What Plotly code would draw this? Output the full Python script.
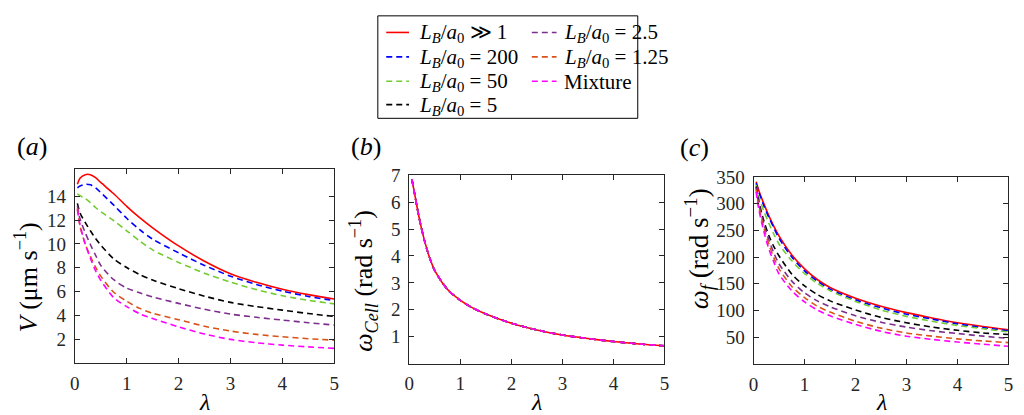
import plotly.graph_objects as go

# ---------------- data ----------------
lam = [0.05, 0.1, 0.2, 0.3, 0.4, 0.5, 0.75, 1, 1.25, 1.5, 2, 2.5, 3, 3.5, 4, 4.5, 5]

series_names = ["L_B/a_0 >> 1", "L_B/a_0 = 200", "L_B/a_0 = 50", "L_B/a_0 = 5",
                "L_B/a_0 = 2.5", "L_B/a_0 = 1.25", "Mixture"]
legend_labels = ["<i>L</i><sub><i>B</i></sub>/<i>a</i><sub>0</sub> ≫ 1",
                 "<i>L</i><sub><i>B</i></sub>/<i>a</i><sub>0</sub> = 200",
                 "<i>L</i><sub><i>B</i></sub>/<i>a</i><sub>0</sub> = 50",
                 "<i>L</i><sub><i>B</i></sub>/<i>a</i><sub>0</sub> = 5",
                 "<i>L</i><sub><i>B</i></sub>/<i>a</i><sub>0</sub> = 2.5",
                 "<i>L</i><sub><i>B</i></sub>/<i>a</i><sub>0</sub> = 1.25",
                 "Mixture"]
colors = ["#ff0000", "#0000ff", "#72cc30", "#000000", "#7e2f8e", "#d95319", "#ff00ff"]
dashes = ["solid", "6px,4px", "6px,4px", "6px,4px", "6px,4px", "6px,4px", "6px,4px"]

# (a) swimming speed V (um/s)
V_inf = [15.0, 15.5, 15.8, 15.8, 15.55, 15.15, 14.2, 13.15, 12.2, 11.35, 9.83, 8.55, 7.5, 6.78, 6.2, 5.75, 5.38]
V_200 = [14.7, 14.85, 15.0, 14.95, 14.7, 14.3, 13.25, 12.15, 11.2, 10.4, 9.25, 8.2, 7.3, 6.6, 6.05, 5.6, 5.25]
V_50 = [14.2, 14.05, 13.8, 13.45, 13.05, 12.7, 11.95, 11.1, 10.25, 9.5, 8.45, 7.55, 6.8, 6.17, 5.66, 5.28, 4.98]
V_5 = [13.4, 12.6, 11.8, 11.1, 10.45, 9.9, 8.75, 8.02, 7.43, 6.97, 6.25, 5.62, 5.1, 4.75, 4.45, 4.17, 3.92]
V_2p5 = [13.2, 12.1, 10.95, 9.95, 9.05, 8.2, 7.0, 6.3, 5.9, 5.56, 5.02, 4.52, 4.12, 3.85, 3.62, 3.4, 3.2]
V_1p25 = [13.0, 11.5, 10.0, 8.95, 8.05, 7.3, 5.95, 5.2, 4.6, 4.2, 3.65, 3.1, 2.7, 2.42, 2.22, 2.06, 1.93]
V_mix = [12.9, 11.6, 10.0, 8.8, 7.75, 6.95, 5.5, 4.75, 4.15, 3.75, 3.05, 2.45, 2.0, 1.72, 1.52, 1.37, 1.25]

# (b) cell rotation rate (all cases coincide)
W_cell = [6.85, 6.35, 5.35, 4.55, 3.92, 3.45, 2.75, 2.35, 2.06, 1.84, 1.5, 1.25, 1.06, 0.93, 0.82, 0.73, 0.66]

# (c) flagellum rotation rate
Wf_inf = [341, 325, 300, 277, 257, 239, 204, 178, 158, 143, 123, 108, 96, 86, 77, 70, 64]
Wf_200 = [338, 322, 296, 274, 254, 235, 200, 174, 155, 140, 120, 105, 93, 84, 75, 68, 62]
Wf_50 = [335, 313, 286, 263, 242, 224, 193, 169, 151, 137, 117, 101, 89, 80, 72, 66, 60]
Wf_5 = [332, 305, 268, 240, 219, 202, 168, 146, 130, 118, 101, 87, 77, 69, 63, 58, 55]
Wf_2p5 = [330, 300, 262, 232, 207, 187, 155, 133, 118, 107, 90, 78, 69, 62, 57, 52, 48]
Wf_1p25 = [326, 295, 255, 224, 198, 178, 145, 124, 108, 97, 80, 67, 58, 52, 47, 43, 40]
Wf_mix = [322, 290, 248, 215, 190, 168, 137, 116, 101, 90, 74, 61, 52, 46, 41, 37, 33]

V_all = [V_inf, V_200, V_50, V_5, V_2p5, V_1p25, V_mix]
Wc_all = [W_cell] * 7
Wf_all = [Wf_inf, Wf_200, Wf_50, Wf_5, Wf_2p5, Wf_1p25, Wf_mix]

x_ticks = [0, 1, 2, 3, 4, 5]
ya_ticks = [2, 4, 6, 8, 10, 12, 14]
yb_ticks = [1, 2, 3, 4, 5, 6, 7]
yc_ticks = [50, 100, 150, 200, 250, 300, 350]

# ---------------- figure ----------------
W, H = 1024, 415
FONT = "Liberation Serif, Times New Roman, serif"
AX = "#262626"


def px(x):
    return x / W


def py(y):
    return 1 - y / H


fig = go.Figure()
for panel, (data, xa, ya) in enumerate([(V_all, "x", "y"), (Wc_all, "x2", "y2"), (Wf_all, "x3", "y3")]):
    for i in range(7):
        fig.add_trace(go.Scatter(
            x=lam, y=data[i], mode="lines", name=series_names[i],
            line=dict(color=colors[i], width=1.6, dash=dashes[i], shape="spline", smoothing=0.8),
            xaxis=xa, yaxis=ya, showlegend=False, hoverinfo="skip"))

common = dict(showline=True, linecolor=AX, linewidth=1, mirror="allticks", ticks="inside",
              ticklen=5, tickwidth=1, tickcolor=AX, showgrid=False, zeroline=False,
              tickfont=dict(family=FONT, size=19, color=AX), fixedrange=True)

doms_x = [(70.5, 332.5), (408.3, 666), (756, 1013.3)]
doms_y = [(163, 362), (169.3, 362.3), (171, 362.7)]
yranges = [[0, 16.27], [0, 7], [0, 350]]
yticks = [ya_ticks, yb_ticks, yc_ticks]

for k in range(3):
    sfx = "" if k == 0 else str(k + 1)
    fig.update_layout(**{
        "xaxis" + sfx: dict(common, domain=[px(doms_x[k][0]), px(doms_x[k][1])], range=[0, 5],
                            tickvals=x_ticks, anchor="y" + sfx, ticklabelstandoff=3),
        "yaxis" + sfx: dict(common, domain=[py(doms_y[k][1]), py(doms_y[k][0])], range=yranges[k],
                            tickvals=yticks[k], anchor="x" + sfx, ticklabelstandoff=4),
    })

ann = []
# panel labels
for lab, (x, y) in zip(["(<i>a</i>)", "(<i>b</i>)", "(<i>c</i>)"], [(27, 140), (365, 140), (696, 141)]):
    ann.append(dict(text=lab, x=px(x), y=py(y), xref="paper", yref="paper", showarrow=False,
                    xanchor="center", yanchor="middle", font=dict(family=FONT, size=26, color="black")))
# x titles
for x in [201, 537, 885]:
    ann.append(dict(text="<i>λ</i>", x=px(x), y=py(402), xref="paper", yref="paper", showarrow=False,
                    xanchor="center", yanchor="middle", font=dict(family=FONT, size=24, color="black")))
# y titles
ytitles = ["<i>V</i> (μm s<sup>−1</sup>)", "<i>ω</i><sub><i>Cell</i></sub> (rad s<sup>−1</sup>)",
           "<i>ω</i><sub><i>f</i></sub> (rad s<sup>−1</sup>)"]
for t, (x, y), fs in zip(ytitles, [(22, 274), (362, 277), (701, 245)], [26, 26, 27]):
    ann.append(dict(text=t, x=px(x), y=py(y), xref="paper", yref="paper", showarrow=False,
                    textangle=-90, xanchor="center", yanchor="middle",
                    font=dict(family=FONT, size=fs, color="black")))

# legend (two columns, column-major)
shapes = [dict(type="rect", xref="paper", yref="paper", x0=px(376.5), x1=px(639), y0=py(111), y1=py(6),
               line=dict(color="black", width=1), fillcolor="white", layer="below")]
rows = [23, 48, 73, 97]
for i in range(7):
    col, row = (0, i) if i < 4 else (1, i - 4)
    lx0, lx1, tx = (385, 408, 416) if col == 0 else (532, 557, 562)
    y = rows[row]
    shapes.append(dict(type="line", xref="paper", yref="paper", x0=px(lx0), x1=px(lx1), y0=py(y), y1=py(y),
                       line=dict(color=colors[i], width=1.6, dash=dashes[i])))
    ann.append(dict(text=legend_labels[i], x=px(tx), y=py(y + 1), xref="paper", yref="paper", showarrow=False,
                    xanchor="left", yanchor="middle", font=dict(family=FONT, size=21, color="black")))

fig.update_layout(width=W, height=H, margin=dict(l=0, r=0, t=0, b=0),
                  font=dict(family=FONT, size=19, color="black"),
                  paper_bgcolor="white", plot_bgcolor="white",
                  annotations=ann, shapes=shapes, showlegend=False)

fig.write_html("out.html", config={"displayModeBar": False},
               post_script="document.body.style.margin='0px';document.body.style.padding='0px';")
